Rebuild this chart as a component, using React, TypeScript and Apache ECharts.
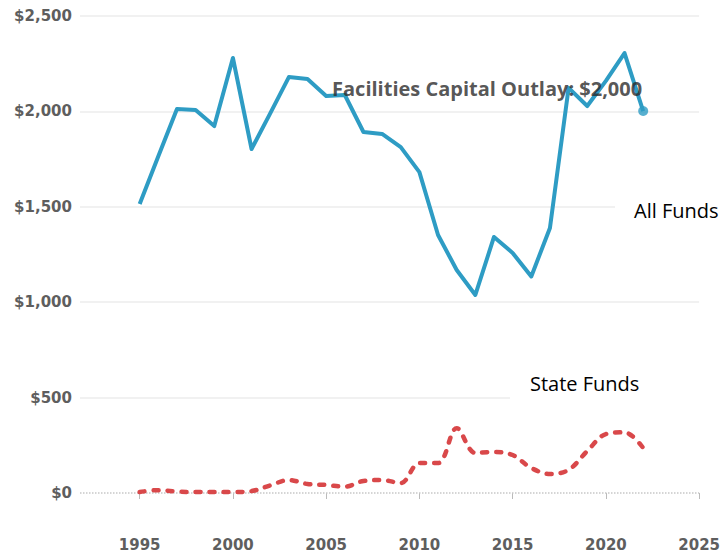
import React, { useEffect, useRef } from "react";
import * as echarts from "echarts";

const years = [1995,1996,1997,1998,1999,2000,2001,2002,2003,2004,2005,2006,2007,2008,2009,2010,2011,2012,2013,2014,2015,2016,2017,2018,2019,2020,2021,2022];
const allFunds = [1515,1765,2013,2007,1923,2280,1803,1990,2180,2170,2081,2086,1892,1882,1813,1682,1352,1169,1038,1342,1258,1135,1389,2123,2028,2160,2306,2002];
const stateFunds = [5,15,8,5,5,5,10,40,68,47,42,33,63,68,52,157,157,340,210,215,199,131,100,121,220,309,318,236];
const xTicks = [1995,2000,2005,2010,2015,2020,2025];
const yTicks = [0,500,1000,1500,2000,2500];
const annotation = "Facilities Capital Outlay: $2,000";
const allLabel = "All Funds";
const stateLabel = "State Funds";

export default function App() {
  const ref = useRef<HTMLDivElement>(null);
  useEffect(() => {
    if (!ref.current) return;
    const chart = echarts.init(ref.current, null, { renderer: "svg" });
    const lastIdx = years.length - 1;
    chart.setOption({
      animation: false,
      backgroundColor: "#fff",
      grid: { left: 80, right: 23, top: 16, bottom: 61 },
      xAxis: {
        type: "value",
        min: 1991.8,
        max: 2025,
        offset: 28,
        axisLine: { show: false },
        splitLine: { show: false },
        axisTick: { show: true, customValues: xTicks, length: 6, lineStyle: { color: "#bbb", width: 1 } },
        axisLabel: {
          customValues: xTicks,
          margin: 16,
          color: "#5e5e5e",
          fontSize: 15,
          fontWeight: "bold",
          fontFamily: "DejaVu Sans",
          formatter: (v: number) => String(v),
        },
      },
      yAxis: {
        type: "value",
        min: 0,
        max: yTicks[yTicks.length - 1],
        interval: 500,
        axisLine: { show: false },
        axisTick: { show: false },
        splitLine: { lineStyle: { color: ["transparent", "#ececec", "#ececec", "#ececec", "#ececec", "#ececec"], width: 1.5 } },
        axisLabel: {
          margin: 8,
          color: "#5e5e5e",
          fontSize: 15,
          fontWeight: "bold",
          fontFamily: "DejaVu Sans",
          formatter: (v: number) => "$" + v.toLocaleString("en-US"),
        },
      },
      graphic: [
        { type: "rect", left: 615, top: 200, shape: { width: 100, height: 16 }, style: { fill: "#fff" }, z: 10 },
        { type: "rect", left: 510, top: 391, shape: { width: 200, height: 16 }, style: { fill: "#fff" }, z: 10 },
        { type: "text", left: 634, top: 200, style: { text: allLabel, fill: "#000", font: "20px 'Open Sans'" }, z: 11 },
        { type: "text", left: 530, top: 373, style: { text: stateLabel, fill: "#000", font: "20px 'Open Sans'" }, z: 11 },
      ],
      series: [
        {
          type: "line",
          data: years.map((y, i) => [y, stateFunds[i]]),
          smooth: 0.35,
          symbol: "none",
          lineStyle: { color: "#d9484a", width: 4.5, type: [5, 9], cap: "round" },
          z: 3,
          markLine: {
            silent: true,
            symbol: "none",
            label: { show: false },
            lineStyle: { color: "#c8c8c8", type: "dotted", width: 1.5 },
            data: [{ yAxis: 0 }],
            z: 1,
          },
        },
        {
          type: "line",
          data: years.map((y, i) => [y, allFunds[i]]),
          symbol: "none",
          lineStyle: { color: "#2e9cc4", width: 4, join: "round" },
          z: 4,
        },
        {
          type: "scatter",
          data: [[years[lastIdx], allFunds[lastIdx]]],
          symbol: "circle",
          symbolSize: 10,
          itemStyle: { color: "#2e9cc4" },
          z: 5,
          label: {
            show: true,
            position: "left",
            distance: 0,
            offset: [4, -23],
            formatter: annotation,
            color: "#2a2a2a",
            fontSize: 20,
            fontWeight: "bold",
            fontFamily: "Open Sans",
          },
        },
      ],
    });
    return () => chart.dispose();
  }, []);
  return <div ref={ref} style={{ position: "absolute", left: 0, top: 0, width: 723, height: 554 }} />;
}
